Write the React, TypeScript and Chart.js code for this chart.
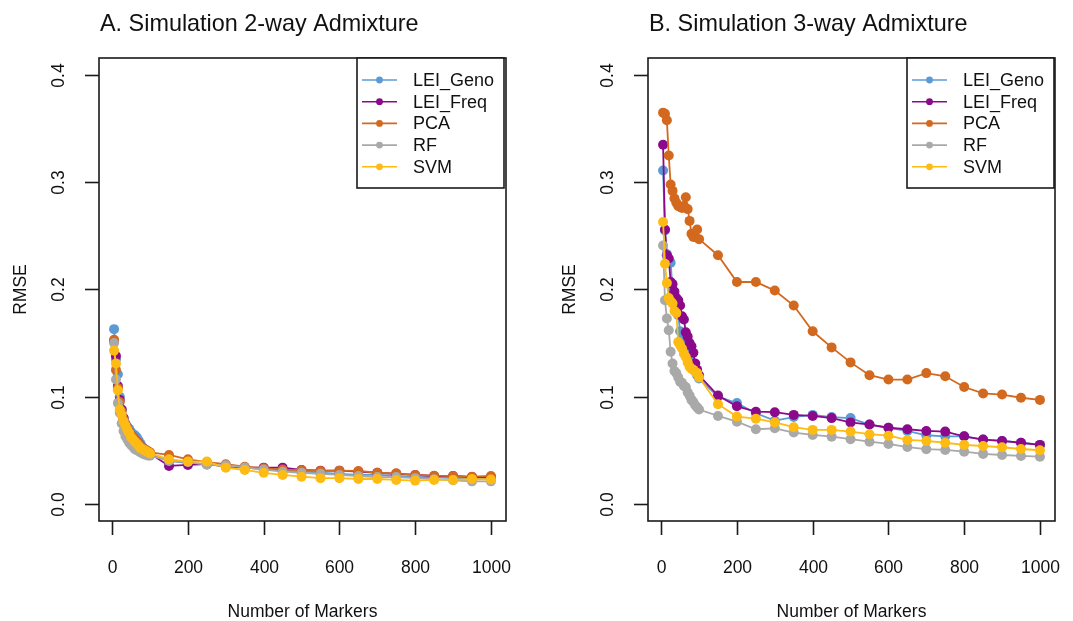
import React, { useEffect, useRef } from "react";
import { Chart, registerables } from "chart.js";

Chart.register(...registerables);

// Number of markers (x values)
const markers = [
  5, 10, 15, 20, 25, 30, 35, 40, 45, 50, 55, 60, 65, 70, 75, 80, 85, 90, 95, 100,
  150, 200, 250, 300, 350, 400, 450, 500, 550, 600, 650, 700, 750, 800, 850, 900, 950, 1000,
];

const xTicks = [0, 200, 400, 600, 800, 1000];
const xTickLabels = ["0", "200", "400", "600", "800", "1000"];
const yTicks = [0, 0.1, 0.2, 0.3, 0.4];
const yTickLabels = ["0.0", "0.1", "0.2", "0.3", "0.4"];

const seriesNames = ["LEI_Geno", "LEI_Freq", "PCA", "RF", "SVM"];
const seriesColors = ["#5B9BD5", "#8B0A8B", "#D2691E", "#A9A9A9", "#FDBB13"];

// Panel A: 2-way admixture
const aGeno = [
  0.163, 0.135, 0.121, 0.100, 0.088, 0.080, 0.075, 0.072, 0.070, 0.067, 0.065, 0.064, 0.062, 0.059, 0.056, 0.053, 0.051, 0.050, 0.048, 0.047,
  0.040, 0.038, 0.037, 0.035, 0.034, 0.032, 0.031, 0.030, 0.029, 0.028, 0.027, 0.027, 0.026, 0.025, 0.025, 0.024, 0.024, 0.024,
];
const aFreq = [
  0.152, 0.138, 0.110, 0.097, 0.088, 0.080, 0.074, 0.070, 0.067, 0.064, 0.062, 0.060, 0.058, 0.056, 0.054, 0.052, 0.050, 0.049, 0.048, 0.047,
  0.0354, 0.0363, 0.037, 0.035, 0.034, 0.0338, 0.0338, 0.0316, 0.031, 0.031, 0.030, 0.029, 0.028, 0.027, 0.026, 0.026, 0.025, 0.025,
];
const aPca = [
  0.153, 0.125, 0.108, 0.095, 0.086, 0.079, 0.074, 0.070, 0.067, 0.064, 0.062, 0.060, 0.058, 0.056, 0.054, 0.052, 0.051, 0.050, 0.049, 0.048,
  0.0456, 0.0416, 0.039, 0.037, 0.0347, 0.0332, 0.032, 0.0316, 0.0307, 0.031, 0.0307, 0.029, 0.0285, 0.027, 0.0263, 0.026, 0.0254, 0.026,
];
const aRf = [
  0.150, 0.116, 0.094, 0.085, 0.075, 0.068, 0.063, 0.060, 0.057, 0.055, 0.053, 0.051, 0.050, 0.049, 0.048, 0.047, 0.046, 0.046, 0.045, 0.045,
  0.040, 0.039, 0.0365, 0.036, 0.034, 0.032, 0.030, 0.029, 0.028, 0.027, 0.026, 0.025, 0.025, 0.024, 0.023, 0.022, 0.021, 0.021,
];
const aSvm = [
  0.143, 0.131, 0.106, 0.088, 0.083, 0.077, 0.073, 0.069, 0.066, 0.062, 0.060, 0.058, 0.056, 0.054, 0.052, 0.051, 0.050, 0.049, 0.048, 0.047,
  0.0416, 0.0394, 0.0394, 0.0338, 0.0316, 0.029, 0.027, 0.0254, 0.024, 0.024, 0.0232, 0.0232, 0.0223, 0.0217, 0.0223, 0.0223, 0.0232, 0.0228,
];

// Panel B: 3-way admixture
const bGeno = [
  0.311, 0.255, 0.233, 0.225, 0.225, 0.200, 0.195, 0.184, 0.176, 0.161, 0.158, 0.150, 0.147, 0.140, 0.137, 0.130, 0.128, 0.124, 0.120, 0.117,
  0.100, 0.094, 0.0845, 0.0776, 0.081, 0.083, 0.081, 0.080, 0.074, 0.071, 0.068, 0.064, 0.063, 0.063, 0.060, 0.0587, 0.057, 0.055,
];
const bFreq = [
  0.335, 0.256, 0.232, 0.229, 0.207, 0.205, 0.198, 0.192, 0.190, 0.185, 0.175, 0.172, 0.160, 0.156, 0.150, 0.147, 0.141, 0.131, 0.125, 0.120,
  0.101, 0.091, 0.086, 0.0855, 0.083, 0.082, 0.080, 0.076, 0.074, 0.071, 0.0696, 0.068, 0.0674, 0.063, 0.060, 0.0587, 0.057, 0.055,
];
const bPca = [
  0.365, 0.364, 0.358, 0.325, 0.298, 0.292, 0.285, 0.281, 0.278, 0.277, 0.276, 0.278, 0.286, 0.275, 0.264, 0.252, 0.249, 0.249, 0.256, 0.247,
  0.232, 0.207, 0.207, 0.199, 0.185, 0.161, 0.146, 0.132, 0.120, 0.116, 0.116, 0.122, 0.119, 0.109, 0.103, 0.102, 0.099, 0.097,
];
const bRf = [
  0.241, 0.190, 0.173, 0.162, 0.142, 0.131, 0.124, 0.122, 0.118, 0.114, 0.113, 0.110, 0.109, 0.104, 0.101, 0.097, 0.095, 0.092, 0.090, 0.088,
  0.082, 0.0767, 0.0696, 0.0705, 0.0665, 0.0643, 0.0627, 0.0603, 0.058, 0.0559, 0.053, 0.051, 0.0503, 0.0487, 0.0466, 0.0456, 0.0447, 0.044,
];
const bSvm = [
  0.263, 0.224, 0.206, 0.192, 0.189, 0.187, 0.180, 0.178, 0.151, 0.148, 0.145, 0.140, 0.137, 0.132, 0.128, 0.126, 0.125, 0.123, 0.122, 0.118,
  0.093, 0.0814, 0.0795, 0.076, 0.0715, 0.069, 0.069, 0.0674, 0.065, 0.0636, 0.0596, 0.0587, 0.057, 0.055, 0.054, 0.0528, 0.0512, 0.050,
];

const FONT = "'Liberation Sans', Arial, sans-serif";
const TEXT = "#111111";

type PanelProps = {
  title: string;
  series: number[][];
  pageLeft: number;
  width: number;
  padLeft: number;
  padRight: number;
  legendRightGap: number;
};

function Panel({ title, series, pageLeft, width, padLeft, padRight, legendRightGap }: PanelProps) {
  const ref = useRef<HTMLCanvasElement | null>(null);

  useEffect(() => {
    if (!ref.current) return;
    const framePlugin = {
      id: "rframe",
      afterDraw(chart: any) {
        const ctx = chart.ctx as CanvasRenderingContext2D;
        const { left, right, top, bottom } = chart.chartArea;
        const xs = chart.scales.x;
        const ys = chart.scales.y;
        const tickLen = 14;
        ctx.save();
        ctx.strokeStyle = "#1a1a1a";
        ctx.lineWidth = 1.6;
        ctx.strokeRect(left, top, right - left, bottom - top);

        ctx.fillStyle = TEXT;
        ctx.font = `17.5px ${FONT}`;
        ctx.textAlign = "center";
        ctx.textBaseline = "middle";
        // x axis ticks
        xTicks.forEach((v, i) => {
          const px = Math.round(xs.getPixelForValue(v)) + 0.5;
          ctx.beginPath();
          ctx.moveTo(px, bottom);
          ctx.lineTo(px, bottom + tickLen);
          ctx.stroke();
          ctx.fillText(xTickLabels[i], px, bottom + 47);
        });
        // y axis ticks
        yTicks.forEach((v, i) => {
          const py = Math.round(ys.getPixelForValue(v)) + 0.5;
          ctx.beginPath();
          ctx.moveTo(left - tickLen, py);
          ctx.lineTo(left, py);
          ctx.stroke();
          ctx.save();
          ctx.translate(left - 40, py);
          ctx.rotate(-Math.PI / 2);
          ctx.fillText(yTickLabels[i], 0, 0);
          ctx.restore();
        });
        // axis titles
        ctx.fillText("Number of Markers", (left + right) / 2, bottom + 91);
        ctx.save();
        ctx.translate(left - 78, (top + bottom) / 2);
        ctx.rotate(-Math.PI / 2);
        ctx.fillText("RMSE", 0, 0);
        ctx.restore();
        // main title
        ctx.font = `23.4px ${FONT}`;
        ctx.textAlign = "left";
        ctx.textBaseline = "alphabetic";
        ctx.fillText(title, left + 1, 31);

        // legend
        const lw = 147;
        const lh = 130;
        const lx = right - legendRightGap - lw;
        const ly = top;
        ctx.fillStyle = "#ffffff";
        ctx.fillRect(lx, ly, lw, lh);
        ctx.strokeStyle = "#1a1a1a";
        ctx.lineWidth = 1.6;
        ctx.strokeRect(lx, ly, lw, lh);
        ctx.font = `18px ${FONT}`;
        ctx.textBaseline = "middle";
        seriesNames.forEach((name, i) => {
          const yy = ly + 22 + i * 21.7;
          ctx.strokeStyle = seriesColors[i];
          ctx.lineWidth = 1.6;
          ctx.beginPath();
          ctx.moveTo(lx + 5, yy);
          ctx.lineTo(lx + 40, yy);
          ctx.stroke();
          ctx.fillStyle = seriesColors[i];
          ctx.beginPath();
          ctx.arc(lx + 22.5, yy, 3.4, 0, Math.PI * 2);
          ctx.fill();
          ctx.fillStyle = TEXT;
          ctx.fillText(name, lx + 56, yy + 1);
        });
        ctx.restore();
      },
    };

    const chart = new Chart(ref.current, {
      type: "line",
      data: {
        datasets: seriesNames.map((name, i) => ({
          label: name,
          data: markers.map((x, j) => ({ x, y: series[i][j] })),
          borderColor: seriesColors[i],
          backgroundColor: seriesColors[i],
          pointBackgroundColor: seriesColors[i],
          pointBorderColor: seriesColors[i],
          pointRadius: 5,
          pointBorderWidth: 0,
          borderWidth: 1.8,
          tension: 0,
          fill: false,
          order: seriesNames.length - 1 - i,
        })),
      },
      options: {
        responsive: false,
        animation: false,
        events: [],
        layout: { padding: { left: padLeft, right: padRight, top: 58, bottom: 100 } },
        scales: {
          x: { type: "linear", min: -34.8, max: 1039.8, display: false },
          y: { type: "linear", min: -0.016, max: 0.416, display: false },
        },
        plugins: {
          legend: { display: false },
          tooltip: { enabled: false },
          title: { display: false },
        },
      },
      plugins: [framePlugin],
    } as any);
    return () => chart.destroy();
  }, []);

  return (
    <canvas
      ref={ref}
      width={width}
      height={621}
      style={{ position: "absolute", left: pageLeft, top: 0, width, height: 621 }}
    />
  );
}

export default function App() {
  return (
    <div
      style={{
        position: "fixed",
        left: 0,
        top: 0,
        width: 1073,
        height: 621,
        background: "#ffffff",
        overflow: "hidden",
      }}
    >
      <Panel
        title="A. Simulation 2-way Admixture"
        series={[aGeno, aFreq, aPca, aRf, aSvm]}
        pageLeft={0}
        width={540}
        padLeft={99}
        padRight={34}
        legendRightGap={2}
      />
      <Panel
        title="B. Simulation 3-way Admixture"
        series={[bGeno, bFreq, bPca, bRf, bSvm]}
        pageLeft={540}
        width={533}
        padLeft={108}
        padRight={18}
        legendRightGap={1}
      />
    </div>
  );
}
